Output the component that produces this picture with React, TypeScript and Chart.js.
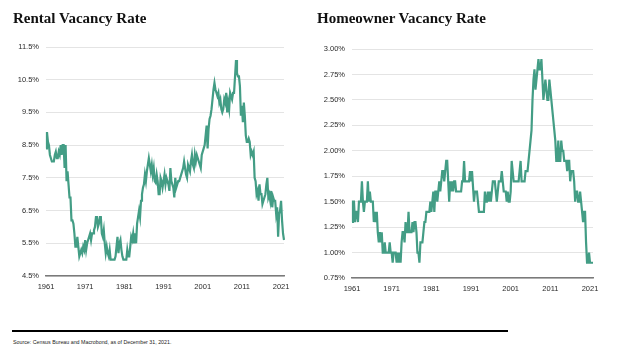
import React, { useEffect, useRef } from 'react';
import { Chart, registerables } from 'chart.js';

Chart.register(...registerables);

// ---------- categories ----------
const YEARS: number[] = [];
for (let y = 1961; y <= 2021; y++) YEARS.push(y);
const QUARTER_LABELS: string[] = YEARS.flatMap((y) => ['Q1', 'Q2', 'Q3', 'Q4'].map((q) => `${y} ${q}`));
const X_TICK_YEARS = ['1961', '1971', '1981', '1991', '2001', '2011', '2021'];

// ---------- tick values ----------
const RENTAL_Y_TICKS = [4.5, 5.5, 6.5, 7.5, 8.5, 9.5, 10.5, 11.5];
const HOME_Y_TICKS = [0.75, 1.0, 1.25, 1.5, 1.75, 2.0, 2.25, 2.5, 2.75, 3.0];

// ---------- Rental vacancy rate (%), quarterly ----------
const rental1961to1970 = [
  8.4, 8.9, 8.6, 8.5,
  8.2, 8.1, 8.0, 8.0,
  8.0, 8.2, 8.3, 8.1,
  8.1, 8.3, 8.2, 8.5,
  8.2, 8.5, 8.5, 7.8,
  8.5, 7.4, 7.7, 7.3,
  6.9, 6.9, 6.2, 6.2,
  6.1, 5.8, 5.4, 5.4,
  5.7, 5.4, 5.1, 5.2,
  5.3, 5.2, 5.4, 5.3,
];
const rental1971to1980 = [
  5.6, 5.3, 5.5, 5.6,
  5.7, 5.8, 5.6, 5.8,
  5.8, 5.9, 6.0, 6.3,
  6.3, 6.0, 6.1, 6.3,
  6.3, 5.8, 5.7, 5.9,
  5.5, 5.2, 5.4, 5.2,
  5.1, 5.3, 5.0, 5.0,
  5.0, 5.0, 5.0, 5.1,
  5.4, 5.7, 5.2, 5.5,
  5.6, 5.3, 5.1, 5.0,
];
const rental1981to1990 = [
  5.0, 5.0, 5.0, 5.3,
  5.1, 5.1, 5.4, 5.7,
  5.6, 5.8, 5.5, 5.8,
  5.5, 6.1, 6.3, 6.5,
  6.3, 6.8, 7.0, 7.2,
  7.3, 7.6, 7.4, 7.7,
  7.9, 8.1, 7.9, 7.7,
  7.9, 7.6, 7.8, 7.4,
  7.35, 7.6, 7.4, 7.0,
  7.0, 7.5, 7.4, 7.2,
];
const rental1991to2000 = [
  7.4, 7.6, 7.3, 7.5,
  7.4, 7.3, 7.1, 7.8,
  7.4, 7.3, 7.2, 6.9,
  7.5, 7.2, 7.3, 7.4,
  7.4, 7.5, 7.6, 7.7,
  7.8, 8.0, 7.8, 7.6,
  7.5, 7.9, 7.8, 7.7,
  8.0, 8.2, 7.9, 7.8,
  8.2, 8.0, 8.2, 8.1,
  8.0, 7.9, 7.8, 8.2,
];
const rental2001to2010 = [
  8.3, 8.4, 8.5, 8.8,
  9.1, 8.4, 9.0, 9.3,
  9.4, 9.6, 9.9, 10.2,
  10.4, 10.2, 10.1, 10.0,
  10.1, 9.8, 9.9, 9.6,
  9.5, 9.6, 9.9, 9.8,
  10.1, 9.5, 9.8, 9.6,
  10.1, 10.0, 9.9, 10.1,
  10.1, 10.6, 11.1, 10.7,
  10.6, 10.6, 10.3, 9.4,
];
const rental2011to2021 = [
  9.7, 9.2, 9.8, 9.4,
  8.8, 8.6, 8.6, 8.7,
  8.6, 8.2, 8.3, 8.2,
  8.3, 7.5, 7.4, 7.0,
  7.1, 6.8, 7.3, 7.0,
  7.0, 6.7, 6.8, 6.9,
  7.0, 7.3, 7.5, 6.9,
  7.0, 6.8, 7.1, 6.6,
  6.9, 6.8, 6.8, 6.4,
  6.6, 5.7, 6.4, 6.5,
  6.8, 6.2, 5.8, 5.6,
];
const RENTAL_RATE = [
  ...rental1961to1970, ...rental1971to1980, ...rental1981to1990,
  ...rental1991to2000, ...rental2001to2010, ...rental2011to2021,
];

// ---------- Homeowner vacancy rate (%), quarterly ----------
const home1961to1970 = [
  1.3, 1.5, 1.5, 1.3,
  1.4, 1.4, 1.3, 1.5,
  1.5, 1.5, 1.7, 1.5,
  1.4, 1.5, 1.5, 1.5,
  1.7, 1.5, 1.6, 1.5,
  1.5, 1.5, 1.3, 1.4,
  1.3, 1.4, 1.2, 1.1,
  1.2, 1.1, 1.2, 1.0,
  1.0, 1.1, 1.0, 1.0,
  1.0, 1.0, 1.1, 1.0,
];
const home1971to1980 = [
  1.0, 0.9, 1.0, 1.0,
  1.0, 0.9, 1.0, 0.9,
  1.0, 0.9, 1.1, 1.2,
  1.2, 1.1, 1.3, 1.2,
  1.2, 1.4, 1.2, 1.2,
  1.2, 1.3, 1.2, 1.3,
  1.3, 1.2, 1.0, 1.0,
  0.9, 1.1, 1.1, 1.1,
  1.2, 1.3, 1.3, 1.4,
  1.4, 1.4, 1.4, 1.5,
];
const home1981to1990 = [
  1.4, 1.5, 1.6, 1.4,
  1.6, 1.6, 1.5, 1.6,
  1.7, 1.6, 1.7, 1.8,
  1.8, 1.7, 1.8, 1.9,
  1.9, 1.7, 1.5, 1.7,
  1.6, 1.7, 1.6, 1.7,
  1.7, 1.6, 1.6, 1.6,
  1.6, 1.6, 1.6, 1.7,
  1.7, 1.9, 1.7, 1.7,
  1.7, 1.7, 1.7, 1.8,
];
const home1991to2000 = [
  1.7, 1.8, 1.8, 1.5,
  1.6, 1.6, 1.6, 1.5,
  1.4, 1.4, 1.4, 1.4,
  1.4, 1.4, 1.6, 1.5,
  1.5, 1.6, 1.5, 1.6,
  1.5, 1.6, 1.7, 1.7,
  1.7, 1.6, 1.5, 1.6,
  1.7, 1.7, 1.7, 1.8,
  1.7, 1.6, 1.6, 1.6,
  1.5, 1.6, 1.5, 1.5,
];
const home2001to2010 = [
  1.6, 1.9, 1.8, 1.7,
  1.7, 1.7, 1.7, 1.7,
  1.7, 1.8, 1.9, 1.7,
  1.7, 1.7, 1.7, 1.8,
  1.8, 1.8, 1.9, 2.0,
  2.1, 2.2, 2.5, 2.7,
  2.8, 2.6, 2.7, 2.8,
  2.9, 2.8, 2.8, 2.9,
  2.7, 2.5, 2.6, 2.7,
  2.6, 2.5, 2.5, 2.7,
];
const home2011to2021 = [
  2.6, 2.5, 2.4, 2.3,
  2.2, 2.1, 1.9, 1.9,
  2.1, 1.9, 1.9, 2.1,
  2.0, 2.0, 1.9, 1.9,
  1.9, 1.8, 1.9, 1.9,
  1.7, 1.8, 1.8, 1.8,
  1.7, 1.5, 1.6, 1.6,
  1.5, 1.5, 1.6, 1.5,
  1.4, 1.3, 1.4, 1.4,
  1.1, 0.9, 0.9, 1.0,
  0.9, 0.9, 0.9, 0.9,
];
const HOME_RATE = [
  ...home1961to1970, ...home1971to1980, ...home1981to1990,
  ...home1991to2000, ...home2001to2010, ...home2011to2021,
];

const LINE_COLOR = '#439d85';
const TICK_FONT = { family: '"Liberation Sans", Arial, sans-serif', size: 7.5 };
const TICK_COLOR = '#2a2a2a';

type PanelProps = {
  values: number[];
  yTicks: number[];
  decimals: number;
  left: number;
  width: number;
  height: number;
  padTop: number;
  padRight: number;
  yWidth: number;
  xHeight: number;
};

function Panel(p: PanelProps) {
  const ref = useRef<HTMLCanvasElement | null>(null);
  useEffect(() => {
    if (!ref.current) return;
    const chart = new Chart(ref.current, {
      type: 'line',
      data: {
        labels: QUARTER_LABELS,
        datasets: [
          {
            data: p.values,
            borderColor: LINE_COLOR,
            borderWidth: 2.2,
            pointRadius: 0,
            tension: 0,
            fill: false,
          },
        ],
      },
      options: {
        responsive: false,
        animation: false,
        events: [],
        layout: { padding: { top: p.padTop, right: p.padRight, left: 0, bottom: 0 } },
        plugins: {
          legend: { display: false },
          tooltip: { enabled: false },
          title: { display: false },
        },
        scales: {
          x: {
            type: 'category',
            offset: false,
            grid: { display: false, drawTicks: false },
            border: { display: true, color: '#7a7a7a', width: 1.5 },
            ticks: {
              autoSkip: false,
              maxRotation: 0,
              padding: 6,
              font: TICK_FONT,
              color: TICK_COLOR,
              callback: (_v: any, i: number) => {
                const l = QUARTER_LABELS[i];
                const yr = l.slice(0, 4);
                return l.endsWith('Q1') && X_TICK_YEARS.includes(yr) ? yr : null;
              },
            },
            afterFit: (s: any) => {
              s.height = p.xHeight;
            },
          },
          y: {
            min: p.yTicks[0],
            max: p.yTicks[p.yTicks.length - 1],
            grid: { color: '#e4e4e4', lineWidth: 1, drawTicks: false },
            border: { display: false },
            ticks: {
              padding: 7,
              font: TICK_FONT,
              color: TICK_COLOR,
              callback: (v: any) => Number(v).toFixed(p.decimals) + '%',
            },
            afterBuildTicks: (s: any) => {
              s.ticks = p.yTicks.map((v) => ({ value: v }));
            },
            afterFit: (s: any) => {
              s.width = p.yWidth;
            },
          },
        },
      },
    } as any);
    return () => chart.destroy();
  }, []);
  return (
    <canvas
      ref={ref}
      width={p.width}
      height={p.height}
      style={{ position: 'absolute', left: p.left, top: 0, width: p.width, height: p.height }}
    />
  );
}

const titleStyle: React.CSSProperties = {
  position: 'absolute',
  top: 10,
  fontFamily: '"Liberation Serif", "Times New Roman", serif',
  fontWeight: 700,
  fontSize: 15,
  lineHeight: '17px',
  color: '#111',
  whiteSpace: 'nowrap',
};

export default function App() {
  return (
    <div
      style={{
        position: 'absolute',
        left: 0,
        top: 0,
        width: 624,
        height: 353,
        background: '#ffffff',
        overflow: 'hidden',
      }}
    >
      <Panel
        values={RENTAL_RATE}
        yTicks={RENTAL_Y_TICKS}
        decimals={1}
        left={0}
        width={312}
        height={300}
        padTop={47}
        padRight={28}
        yWidth={46}
        xHeight={24}
      />
      <Panel
        values={HOME_RATE}
        yTicks={HOME_Y_TICKS}
        decimals={2}
        left={312}
        width={312}
        height={300}
        padTop={49}
        padRight={31}
        yWidth={40}
        xHeight={22}
      />
      <div style={{ ...titleStyle, left: 13 }}>Rental Vacancy Rate</div>
      <div style={{ ...titleStyle, left: 317 }}>Homeowner Vacancy Rate</div>
      <div
        style={{
          position: 'absolute',
          left: 12,
          top: 330,
          width: 496,
          height: 2,
          background: '#000',
        }}
      />
      <div
        style={{
          position: 'absolute',
          left: 13,
          top: 338,
          fontFamily: '"Liberation Sans", Arial, sans-serif',
          fontSize: 5.3,
          lineHeight: '8px',
          color: '#222',
          whiteSpace: 'nowrap',
        }}
      >
        Source: Census Bureau and Macrobond, as of December 31, 2021.
      </div>
    </div>
  );
}
